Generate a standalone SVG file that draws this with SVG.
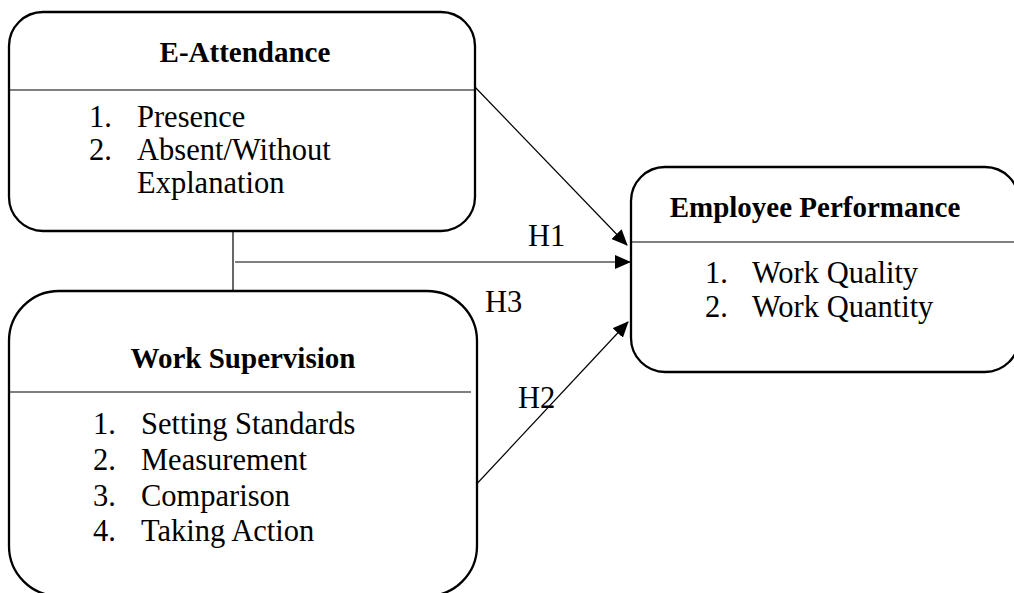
<svg xmlns="http://www.w3.org/2000/svg" width="1014" height="593" viewBox="0 0 1014 593">
<style>
.box{fill:#fff;stroke:#000;stroke-width:2.3}
.div{stroke:#000;stroke-width:1.2}
.t{font-family:"Liberation Serif","Times New Roman",serif;font-size:30.5px;fill:#000}
.b{font-weight:bold;text-anchor:middle;font-size:29px}
.c{stroke:#000;stroke-width:1.2;fill:none}
</style>
<defs>
<marker id="ah" markerWidth="16" markerHeight="14" refX="15" refY="7" orient="auto" markerUnits="userSpaceOnUse">
<path d="M0,0 L16,7 L0,14 Z" fill="#000"/>
</marker>
</defs>
<rect width="1014" height="593" fill="#fff"/>
<g id="connectors">
<line class="c" x1="233" y1="231" x2="233" y2="291"/>
<line class="c" x1="235" y1="262" x2="630" y2="262" marker-end="url(#ah)"/>
<line class="c" x1="473" y1="85" x2="627" y2="245" marker-end="url(#ah)"/>
<line class="c" x1="471" y1="490" x2="628" y2="322" marker-end="url(#ah)"/>
<text class="t" x="528" y="246">H1</text>
<text class="t" x="485" y="312">H3</text>
<text class="t" x="518" y="408">H2</text>
</g>
<g id="e-attendance">
<rect class="box" x="9" y="12" width="466" height="219" rx="34" ry="34"/>
<line class="div" x1="9" y1="90" x2="475" y2="90"/>
<text class="t b" x="245" y="62">E-Attendance</text>
<text class="t" x="89" y="127">1.</text>
<text class="t" x="137" y="127">Presence</text>
<text class="t" x="89" y="160">2.</text>
<text class="t" x="137" y="160">Absent/Without</text>
<text class="t" x="137" y="193">Explanation</text>
</g>
<g id="work-supervision">
<rect class="box" x="9" y="291" width="468" height="305" rx="50" ry="50"/>
<line class="div" x1="9" y1="392" x2="471" y2="392"/>
<text class="t b" x="243" y="368">Work Supervision</text>
<text class="t" x="93" y="434">1.</text>
<text class="t" x="141" y="434">Setting Standards</text>
<text class="t" x="93" y="470">2.</text>
<text class="t" x="141" y="470">Measurement</text>
<text class="t" x="93" y="506">3.</text>
<text class="t" x="141" y="506">Comparison</text>
<text class="t" x="93" y="541">4.</text>
<text class="t" x="141" y="541">Taking Action</text>
</g>
<g id="employee-performance">
<rect class="box" x="631" y="167" width="388" height="205" rx="34" ry="34"/>
<line class="div" x1="631" y1="242" x2="1014" y2="242"/>
<text class="t b" x="815" y="217">Employee Performance</text>
<text class="t" x="705" y="283">1.</text>
<text class="t" x="752" y="283">Work Quality</text>
<text class="t" x="705" y="317">2.</text>
<text class="t" x="752" y="317">Work Quantity</text>
</g>
</svg>
